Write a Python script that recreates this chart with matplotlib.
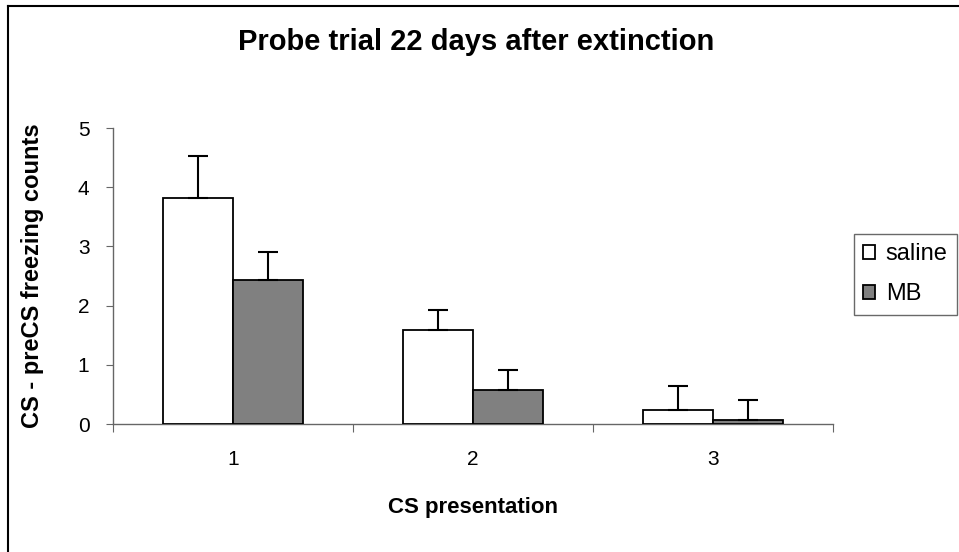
import numpy as np
import matplotlib
matplotlib.use('Agg')
import matplotlib.pyplot as plt
from matplotlib.lines import Line2D

plt.rcParams['font.family'] = ['Liberation Sans', 'DejaVu Sans']

categories = ['1', '2', '3']
saline = [3.82, 1.59, 0.24]
saline_err = [0.71, 0.34, 0.40]
mb = [2.43, 0.57, 0.07]
mb_err = [0.47, 0.34, 0.34]

W, H = 959, 552
fig = plt.figure(figsize=(W / 100, H / 100), dpi=100)
fig.patch.set_facecolor('white')

# outer frame (top and left edges visible, rest cropped)
fig.add_artist(Line2D([8 / W, 1], [1 - 6 / H, 1 - 6 / H], transform=fig.transFigure,
                      color='black', lw=1.5))
fig.add_artist(Line2D([8 / W, 8 / W], [0, 1 - 6 / H], transform=fig.transFigure,
                      color='black', lw=1.5))

ax = fig.add_axes([113 / W, 1 - 424 / H, (833 - 113) / W, (424 - 128) / H])

x = np.arange(1, len(categories) + 1)
bw = 0.29
err_kw = dict(ecolor='black', elinewidth=1.5, capsize=7, capthick=1.5)
ax.bar(x - bw / 2, saline, bw, color='white', edgecolor='black', linewidth=1.3,
       yerr=[np.zeros(3), saline_err], error_kw=err_kw, label='saline', zorder=3)
ax.bar(x + bw / 2, mb, bw, color='#808080', edgecolor='black', linewidth=1.3,
       yerr=[np.zeros(3), mb_err], error_kw=err_kw, label='MB', zorder=3)

ax.set_xlim(0.5, 3.5)
ax.set_ylim(0, 5)
ax.set_yticks(range(0, 6))
ax.set_xticks([0.5, 1.5, 2.5, 3.5])
ax.set_xticklabels([])
ax.set_xticks(x, minor=True)
ax.set_xticklabels(categories, minor=True)
ax.tick_params(axis='x', which='major', direction='out', length=6, color='#666666')
ax.tick_params(axis='x', which='minor', length=0, pad=19, labelsize=15)
ax.tick_params(axis='y', direction='out', length=5, color='#666666', pad=12, labelsize=15)

for s in ['top', 'right']:
    ax.spines[s].set_visible(False)
for s in ['left', 'bottom']:
    ax.spines[s].set_color('#666666')
    ax.spines[s].set_linewidth(1)

ax.set_ylabel('CS - preCS freezing counts', fontsize=17, fontweight='bold')
ax.yaxis.set_label_coords(-(113 - 44) / (833 - 113), 0.5)
ax.set_xlabel('CS presentation', fontsize=16, fontweight='bold')
ax.xaxis.set_label_coords(0.5, -(497 - 424) / (424 - 128))
fig.text(476 / W, 1 - 42 / H, 'Probe trial 22 days after extinction', ha='center',
         va='center', fontsize=21, fontweight='bold')

leg = fig.legend(loc='upper left', bbox_to_anchor=(854 / W, 1 - 234 / H),
                 frameon=True, fancybox=False, fontsize=17, handlelength=0.5,
                 handleheight=0.5, handletextpad=0.45, borderpad=0.4,
                 labelspacing=0.75, borderaxespad=0)
leg.get_frame().set_edgecolor('#444444')
leg.get_frame().set_linewidth(1)

fig.savefig('out.png', dpi=100)
